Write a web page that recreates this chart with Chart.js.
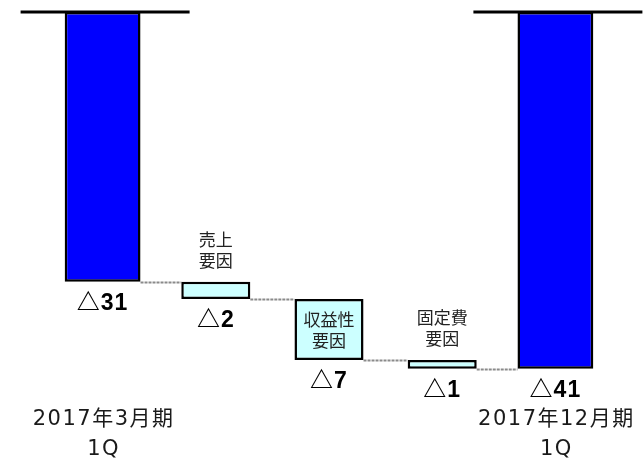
<!DOCTYPE html>
<html>
<head>
<meta charset="utf-8">
<script src="https://cdn.jsdelivr.net/npm/chart.js@4/dist/chart.umd.min.js"></script>
<style>
  html, body { margin: 0; padding: 0; background: #fff; }
  #wrap { width: 644px; height: 459px; }
</style>
</head>
<body>
<div id="wrap"><canvas id="waterfall"></canvas></div>
<script>
// waterfall: two totals (blue) and three factors (light cyan) between them

const categories = [['2017年3月期', '1Q'], [], [], [], ['2017年12月期', '1Q']];
const values = [-31, -2, -7, -1, -41];
const isTotal = [true, false, false, false, true];
const valueLabels = ['△31', '△2', '△7', '△1', '△41'];
const factorNames = [null, ['売上', '要因'], ['収益性', '要因'], ['固定費', '要因'], null];

const FONT = '"Noto Sans CJK JP", "Noto Sans", sans-serif';
const WIDE_FONT = '"DejaVu Sans", "Noto Sans CJK JP", sans-serif';
const VALUE_FONT = '"Liberation Sans", "Noto Sans CJK JP", sans-serif';

// floating ranges built from the values
const ranges = [];
let running = 0;
values.forEach((v, i) => {
  if (isTotal[i]) {
    ranges.push([v, 0]);
    running = v;
  } else {
    ranges.push([running + v, running]);
    running += v;
  }
});

const totalData = ranges.map((r, i) => isTotal[i] ? r : null);
const factorData = ranges.map((r, i) => isTotal[i] ? null : r);

const waterfallDecor = {
  id: 'waterfallDecor',
  beforeDatasetsDraw(chart) {
    const ctx = chart.ctx;
    const y = chart.scales.y;
    const metas = [chart.getDatasetMeta(0), chart.getDatasetMeta(1)];
    const barAt = i => (isTotal[i] ? metas[0] : metas[1]).data[i];
    ctx.save();
    ctx.strokeStyle = '#8a8a8a';
    ctx.lineWidth = 2;
    ctx.setLineDash([3, 1]);
    for (let i = 0; i < ranges.length - 1; i++) {
      const a = barAt(i), b = barAt(i + 1);
      const py = Math.round(y.getPixelForValue(ranges[i][0])) + 0.5;
      ctx.beginPath();
      ctx.moveTo(a.x + a.width / 2, py);
      ctx.lineTo(b.x - b.width / 2, py);
      ctx.stroke();
    }
    ctx.restore();
  },
  afterDatasetsDraw(chart) {
    const ctx = chart.ctx;
    const x = chart.scales.x;
    const y = chart.scales.y;
    const metas = [chart.getDatasetMeta(0), chart.getDatasetMeta(1)];
    ctx.save();
    // zero lines over the totals
    ctx.strokeStyle = '#000';
    ctx.lineWidth = 3;
    const y0 = y.getPixelForValue(0);
    ranges.forEach((r, i) => {
      if (!isTotal[i]) return;
      const bar = metas[0].data[i];
      ctx.beginPath();
      ctx.moveTo(bar.x - 82, y0);
      ctx.lineTo(bar.x + 87, y0);
      ctx.stroke();
    });

    ctx.textAlign = 'center';
    ctx.textBaseline = 'middle';
    ranges.forEach((r, i) => {
      const bar = (isTotal[i] ? metas[0] : metas[1]).data[i];
      const bottom = y.getPixelForValue(r[0]);
      const top = y.getPixelForValue(r[1]);
      ctx.fillStyle = '#000';
      ctx.font = 'bold 23px ' + VALUE_FONT;
      ctx.letterSpacing = '1px';
      ctx.fillText(valueLabels[i], bar.x, bottom + 22);

      const names = factorNames[i];
      if (!names) return;
      ctx.font = '17px ' + FONT;
      ctx.letterSpacing = '0px';
      ctx.fillStyle = '#222';
      const lh = 21;
      if (bottom - top > names.length * lh + 6) {
        const mid = (top + bottom) / 2;
        names.forEach((t, k) => ctx.fillText(t, bar.x, mid + (k - (names.length - 1) / 2) * lh));
      } else {
        names.forEach((t, k) => ctx.fillText(t, bar.x, top - 21 - (names.length - 1 - k) * lh));
      }
    });

    // category labels under the totals
    ctx.font = '21px ' + WIDE_FONT;
    ctx.letterSpacing = '1.5px';
    ctx.fillStyle = '#1a1a1a';
    const base = y.getPixelForValue(-41);
    categories.forEach((lines, i) => {
      lines.forEach((t, k) => ctx.fillText(t, x.getPixelForValue(i) + 1, base + 51 + k * 30));
    });
    ctx.restore();
  }
};

new Chart(document.getElementById('waterfall'), {
  type: 'bar',
  data: {
    labels: categories.map(l => l.join(' ')),
    datasets: [
      {
        label: '期',
        data: totalData,
        backgroundColor: '#0000ff',
        borderColor: '#000',
        borderWidth: 2.5,
        borderSkipped: false,
        barPercentage: 0.67,
        categoryPercentage: 1
      },
      {
        label: '要因',
        data: factorData,
        backgroundColor: '#ccffff',
        borderColor: '#000',
        borderWidth: 2.5,
        borderSkipped: false,
        barPercentage: 0.61,
        categoryPercentage: 1
      }
    ]
  },
  options: {
    responsive: true,
    maintainAspectRatio: false,
    animation: false,
    grouped: false,
    layout: { padding: { left: 46, right: 32, top: 12, bottom: 12 } },
    plugins: {
      legend: { display: false },
      tooltip: { enabled: false }
    },
    scales: {
      x: { display: false },
      y: {
        display: false,
        min: -50,
        max: 0
      }
    }
  },
  plugins: [waterfallDecor]
});
</script>
</body>
</html>
